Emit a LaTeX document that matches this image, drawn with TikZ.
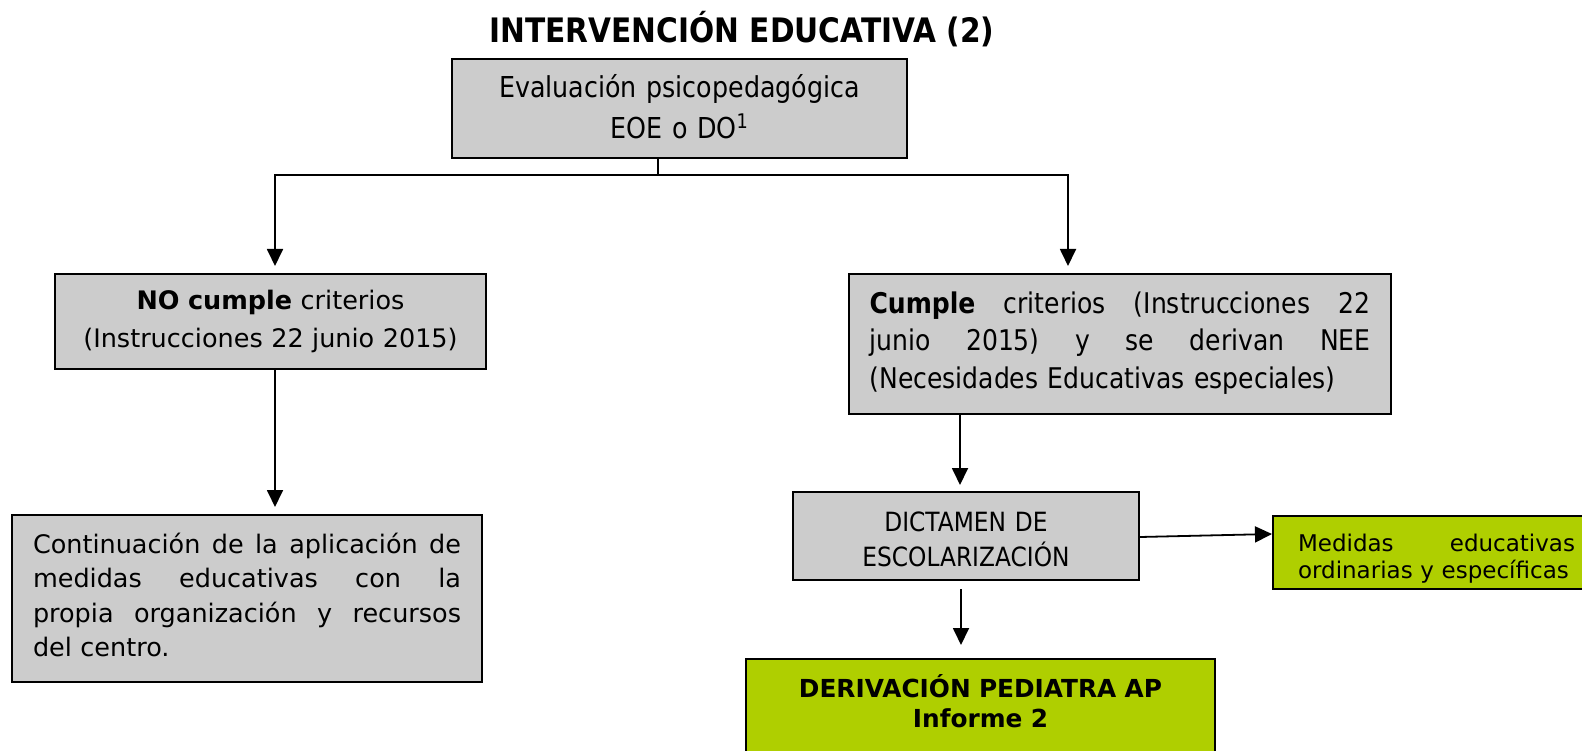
\documentclass[tikz,border=0pt]{standalone}
\usepackage{fontspec}
\setmainfont{DejaVu Sans}
\newfontfamily\condfont{DejaVu Sans}[FakeStretch=0.88]
\usetikzlibrary{arrows.meta,calc}
\definecolor{boxgray}{RGB}{204,204,204}
\definecolor{boxgreen}{RGB}{175,207,0}
\newcommand{\jline}[2]{\leavevmode\hbox to #1{#2}}
\newcommand{\dpad}[1]{\rule[-#1]{0pt}{0pt}}
\newcommand{\hpad}[1]{\rule{0pt}{#1}}
\begin{document}
\begin{tikzpicture}[x=1pt,y=-1pt,
  gbox/.style={draw=black, line width=2pt, fill=boxgray, inner sep=0pt},
  grbox/.style={draw=black, line width=2pt, fill=boxgreen, inner sep=0pt},
  conn/.style={line width=1.8pt, draw=black},
  arr/.style={conn, -{Triangle[width=16pt,length=17pt]}}]
\fill[white] (0,0) rectangle (1582,751);
\useasboundingbox (0,0) rectangle (1582,751);

\node[font=\condfont\bfseries\fontsize{33.7}{40}\selectfont] (title) at (742,29) {INTERVENCIÓN EDUCATIVA (2)};

\node[gbox, minimum width=455pt, minimum height=99pt, text width=440pt, align=center,
      font=\condfont\fontsize{28.8}{41}\selectfont] (eval) at (679.5,108.5)
      {Evaluación psicopedagógica\\EOE o DO\textsuperscript{1}\dpad{5pt}};

\node[gbox, minimum width=431pt, minimum height=95pt, text width=420pt, align=center,
      font=\fontsize{25.5}{38}\selectfont] (nocumple) at (270.5,321.5)
      {\textbf{NO cumple} criterios\\(Instrucciones 22 junio 2015)};

\node[gbox, minimum width=470pt, minimum height=167pt, text width=428pt, align=left,
      font=\fontsize{25.5}{34.5}\selectfont] (cont) at (247,598.5)
      {\jline{428pt}{Continuación\hfill de\hfill la\hfill aplicación\hfill de}\\
       \jline{428pt}{medidas\hfill educativas\hfill con\hfill la}\\
       \jline{428pt}{propia\hfill organización\hfill y\hfill recursos}\\
       del centro.\dpad{7pt}};

\node[gbox, minimum width=542pt, minimum height=140pt, text width=501pt, align=left,
      font=\condfont\fontsize{28.5}{37.5}\selectfont] (cumple) at (1120,344)
      {\jline{501pt}{\textbf{Cumple}\hfill criterios\hfill (Instrucciones\hfill 22}\\
       \jline{501pt}{junio\hfill 2015)\hfill y\hfill se\hfill derivan\hfill NEE}\\
       (Necesidades Educativas especiales)\dpad{8pt}};

\node[gbox, minimum width=346pt, minimum height=88pt, text width=330pt, align=center,
      font=\condfont\fontsize{26.5}{35}\selectfont] (dict) at (966,536)
      {\hpad{27pt}DICTAMEN DE\\ESCOLARIZACIÓN};

\node[grbox, minimum width=327pt, minimum height=73pt, text width=277pt, align=left,
      font=\fontsize{23}{27}\selectfont] (med) at (1436.5,552.5)
      {\jline{277pt}{\hpad{29.5pt}Medidas\hfill educativas}\\ ordinarias y específicas};

\node[grbox, minimum width=469pt, minimum height=102pt, text width=440pt, align=center,
      font=\bfseries\fontsize{24.8}{30}\selectfont] (deriv) at (980.5,710)
      {DERIVACIÓN PEDIATRA AP\\Informe 2\dpad{18pt}};

\draw[conn] ([xshift=-21.5pt]eval.south) -- ++(0,16) coordinate (split);
\draw[arr, shorten >=7pt] (split) -| ([xshift=4.5pt]nocumple.north);
\draw[arr, shorten >=7pt] (split) -| ([xshift=-52pt]cumple.north);
\draw[arr, shorten >=7pt] ([xshift=4.5pt]nocumple.south) -- ([xshift=4.5pt]nocumple.south |- cont.north);
\draw[arr, shorten >=6pt] ([xshift=-160pt]cumple.south) -- ([xshift=-160pt]cumple.south |- dict.north);
\draw[arr] ([yshift=-1pt]dict.east) -- ([yshift=18.5pt]med.west);
\draw[arr, shorten <=8pt, shorten >=13pt] ([xshift=-5pt]dict.south) -- ([xshift=-5pt]dict.south |- deriv.north);
\end{tikzpicture}
\end{document}
